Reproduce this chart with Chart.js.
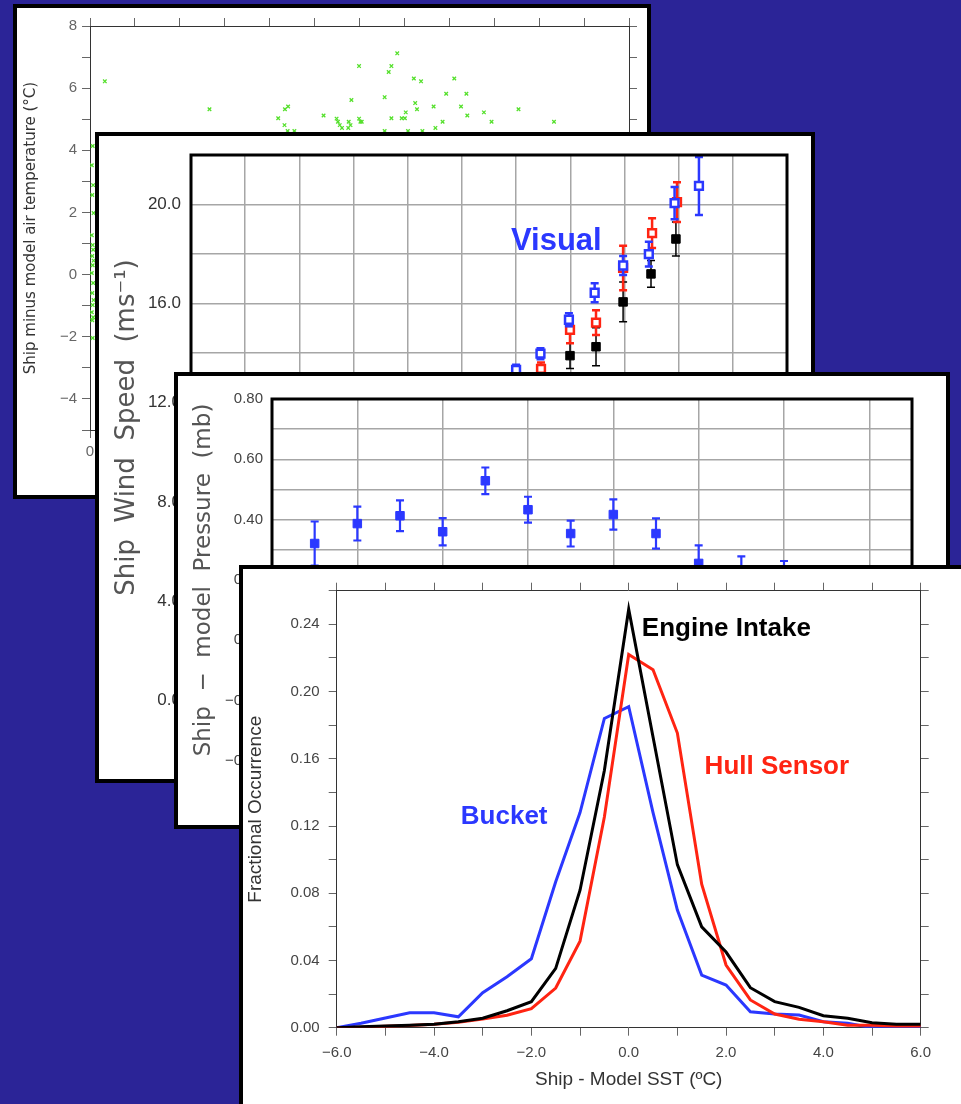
<!DOCTYPE html>
<html>
<head>
<meta charset="utf-8">
<title>Ship minus model comparisons</title>
<script src="https://cdn.jsdelivr.net/npm/chart.js@4.4.1/dist/chart.umd.min.js"></script>
<style>
  html, body { margin: 0; padding: 0; overflow: hidden; background: #2b2497; }
  canvas { position: absolute; left: 0; top: 0; }
</style>
</head>
<body>
<canvas id="airChart" width="961" height="1104" style="z-index:1"></canvas>
<canvas id="windChart" width="961" height="1104" style="z-index:2"></canvas>
<canvas id="pressureChart" width="961" height="1104" style="z-index:3"></canvas>
<canvas id="sstChart" width="961" height="1104" style="z-index:4"></canvas>
<script>
// ---- panel 1: ship minus model air temperature (scatter) ----
const airX = [0.33, 2.66, 4.19, 4.34, 4.41, 4.33, 4.40, 4.55, 5.20, 5.49, 5.52, 5.56, 5.61, 5.76, 5.80, 5.75,
  5.82, 5.99, 5.99, 6.02, 6.05, 6.56, 6.56, 6.65, 6.71, 6.71, 6.84, 6.94, 7.01, 7.03, 7.08, 7.21, 7.24, 7.28,
  7.37, 7.40, 7.65, 7.69, 7.85, 7.93, 8.11, 8.26, 8.38, 8.40, 8.77, 8.94, 9.54, 10.33,
  0.06, 0.04, 0.07, 0.05, 0.08, 0.04, 0.06, 0.07, 0.05, 0.08, 0.06, 0.04, 0.07, 0.05, 0.08, 0.06, 0.04, 0.07, 0.05, 0.06];
const airY = [6.22, 5.32, 5.03, 5.32, 5.41, 4.81, 4.62, 4.62, 5.12, 5.02, 4.92, 4.81, 4.72, 4.92, 4.81, 4.72,
  5.62, 6.71, 5.02, 4.92, 4.92, 5.71, 4.62, 6.52, 6.71, 5.03, 7.12, 5.03, 5.03, 5.22, 4.62, 6.31, 5.52, 5.32,
  6.22, 4.62, 5.41, 4.72, 4.92, 5.82, 6.31, 5.41, 5.82, 5.12, 5.22, 4.92, 5.32, 4.92,
  4.14, 3.52, 2.88, 2.56, 1.98, 1.27, 0.95, 0.80, 0.60, 0.45, 0.30, 0.05, -0.27, -0.59, -0.82, -0.98, -1.21, -1.37, -1.47, -2.04];
const airYTicks = [8, 6, 4, 2, 0, -2, -4];

// ---- panel 2: ship wind speed ----
const visualX = [12.0, 12.9, 13.95, 14.9, 15.95, 16.9, 17.85, 18.75];
const visualSpeed = [13.33, 13.98, 15.35, 16.44, 17.54, 18.0, 20.06, 20.75];
const visualErr = [0.2, 0.22, 0.26, 0.38, 0.38, 0.5, 0.65, 1.17];
const hullX = [12.92, 13.99, 14.95, 15.95, 17.02, 17.94];
const hullSpeed = [13.37, 14.94, 15.23, 17.44, 18.85, 20.1];
const hullErr = [0.25, 0.54, 0.5, 0.9, 0.6, 0.8];
const engineX = [13.99, 14.95, 15.95, 16.98, 17.9];
const engineSpeed = [13.9, 14.26, 16.07, 17.2, 18.61];
const engineErr = [0.52, 0.77, 0.8, 0.54, 0.69];

// ---- panel 3: ship - model pressure ----
const pressX = [1, 2, 3, 4, 5, 6, 7, 8, 9, 10, 11, 12];
const pressure = [0.321, 0.387, 0.413, 0.360, 0.529, 0.433, 0.354, 0.417, 0.354, 0.255, 0.218, 0.208];
const pressErr = [0.073, 0.056, 0.051, 0.045, 0.044, 0.043, 0.043, 0.05, 0.05, 0.06, 0.06, 0.055];

// ---- panel 4: fractional occurrence of ship - model SST ----
const sstBins = [-6, -5.5, -5, -4.5, -4, -3.5, -3, -2.5, -2, -1.5, -1, -0.5, 0, 0.5, 1, 1.5, 2, 2.5, 3, 3.5, 4, 4.5, 5, 5.5, 6];
const bucket = [0, 0.0026, 0.0058, 0.0089, 0.0089, 0.0065, 0.0208, 0.0303, 0.041, 0.0868, 0.128, 0.184, 0.191,
  0.128, 0.070, 0.0313, 0.0254, 0.0095, 0.0081, 0.0075, 0.0036, 0.0026, 0.0, 0.0005, 0];
const engineIntake = [0, 0.0005, 0.001, 0.0015, 0.002, 0.0036, 0.0056, 0.0101, 0.0155, 0.0353, 0.0818, 0.153, 0.249,
  0.173, 0.097, 0.060, 0.045, 0.0238, 0.0155, 0.0121, 0.0071, 0.0056, 0.003, 0.002, 0.002];
const hullSensor = [0, 0.0003, 0.0008, 0.0013, 0.002, 0.0032, 0.0052, 0.0074, 0.0113, 0.0236, 0.0515, 0.1254, 0.222,
  0.213, 0.1753, 0.0854, 0.0373, 0.0165, 0.0081, 0.005, 0.0036, 0.0014, 0.0014, 0.001, 0.001];

const SANS = '"Liberation Sans", Arial, sans-serif';
const DEJA = '"DejaVu Sans", sans-serif';
const BLUE = '#2b38ff', RED = '#ff2412', GREEN = '#55e02c';
const MINUS = '\u2212';

Chart.defaults.font.family = SANS;
Chart.defaults.animation = false;
Chart.defaults.responsive = false;
Chart.defaults.events = [];
Chart.defaults.plugins.legend.display = false;
Chart.defaults.plugins.tooltip.enabled = false;

const pts = (xs, ys) => xs.map((x, i) => ({x: x, y: ys[i]}));
const fmt = (v, d) => Math.abs(v) < 1e-9 ? (0).toFixed(d) : (v < 0 ? MINUS + Math.abs(v).toFixed(d) : v.toFixed(d));

// white slide with black border behind each chart
const panelBox = {
  id: 'panelBox',
  beforeDraw(chart, args, o) {
    const ctx = chart.ctx, b = o.border;
    ctx.save();
    ctx.fillStyle = '#fff';
    ctx.fillRect(o.left, o.top, o.right - o.left, o.bottom - o.top);
    ctx.lineWidth = b;
    ctx.strokeStyle = '#000';
    ctx.strokeRect(o.left + b / 2, o.top + b / 2, o.right - o.left - b, o.bottom - o.top - b);
    ctx.restore();
  }
};

// heavy frame round the plot area
const plotFrame = {
  id: 'plotFrame',
  afterDraw(chart, args, o) {
    if (!o.width) return;
    const a = chart.chartArea, ctx = chart.ctx;
    ctx.save();
    ctx.lineWidth = o.width;
    ctx.strokeStyle = '#000';
    ctx.strokeRect(a.left, a.top, a.right - a.left, a.bottom - a.top);
    ctx.restore();
  }
};

// vertical error bars read from dataset.errors
const errorBars = {
  id: 'errorBars',
  beforeDatasetDraw(chart, args) {
    const ds = chart.data.datasets[args.index];
    if (!ds.errors) return;
    const ctx = chart.ctx, ys = chart.scales.y;
    ctx.save();
    ctx.strokeStyle = ds.borderColor;
    ctx.lineWidth = ds.errorWidth || 2;
    args.meta.data.forEach((p, i) => {
      const v = ds.data[i].y, e = ds.errors[i];
      const t = ys.getPixelForValue(v + e), b = ys.getPixelForValue(v - e);
      ctx.beginPath();
      ctx.moveTo(p.x, t); ctx.lineTo(p.x, b);
      ctx.moveTo(p.x - 4, t); ctx.lineTo(p.x + 4, t);
      ctx.moveTo(p.x - 4, b); ctx.lineTo(p.x + 4, b);
      ctx.stroke();
    });
    ctx.restore();
  }
};

// series names written inside the plot
const notes = {
  id: 'notes',
  afterDatasetsDraw(chart, args, o) {
    if (!o.items) return;
    const ctx = chart.ctx;
    ctx.save();
    ctx.textAlign = 'left';
    ctx.textBaseline = 'middle';
    o.items.forEach(n => {
      ctx.font = 'bold ' + n.size + 'px ' + SANS;
      ctx.fillStyle = n.color;
      ctx.fillText(n.text, chart.scales.x.getPixelForValue(n.x), chart.scales.y.getPixelForValue(n.y));
    });
    ctx.restore();
  }
};

const size = (w, h) => s => { if (w !== null) s.width = w; if (h !== null) s.height = h; };
const tickAxis = (pos, min, max, step, len, extra) => Object.assign({
  type: 'linear', position: pos, min: min, max: max,
  ticks: {display: false, stepSize: step, autoSkip: false},
  grid: {drawOnChartArea: false, tickLength: len, color: '#666'},
  border: {display: true, color: '#333', width: 1}
}, extra || {});

// ---------- panel 1 ----------
new Chart(document.getElementById('airChart'), {
  type: 'scatter',
  data: {datasets: [{
    data: pts(airX, airY), pointStyle: 'crossRot', pointRadius: 2.5,
    borderColor: GREEN, backgroundColor: GREEN, borderWidth: 1.3
  }]},
  options: {
    layout: {padding: {left: 22, top: 18, right: 324, bottom: 644}},
    plugins: {panelBox: {left: 13, top: 4, right: 651, bottom: 499, border: 4}},
    scales: {
      x: tickAxis('bottom', 0, 12, 1, 8, {
        ticks: {stepSize: 1, autoSkip: false, maxRotation: 0, padding: 5, color: '#666', font: {size: 15},
          callback: v => v === 0 ? '0' : ''},
        afterFit: size(null, 30)
      }),
      x2: tickAxis('top', 0, 12, 1, 8, {afterFit: size(null, 8)}),
      y: tickAxis('left', -5, 8, 1, 8, {
        ticks: {stepSize: 1, autoSkip: false, padding: 5, color: '#666', font: {size: 15},
          callback: v => airYTicks.includes(v) ? fmt(v, 0) : ''},
        title: {display: true, text: 'Ship minus model air temperature (°C)', color: '#333',
          font: {family: DEJA, size: 15}, padding: 0},
        afterFit: size(68, null)
      }),
      y2: tickAxis('right', -5, 8, 1, 8, {afterFit: size(8, null)})
    }
  },
  plugins: [panelBox]
});

// ---------- panel 2 ----------
const gridGrey = {color: '#a6a6a6', lineWidth: 1.5, drawTicks: false};
new Chart(document.getElementById('windChart'), {
  type: 'scatter',
  data: {datasets: [
    {label: 'Visual', data: pts(visualX, visualSpeed), errors: visualErr, errorWidth: 2.5,
      pointStyle: 'rect', pointRadius: 5.5, borderWidth: 2.5, borderColor: BLUE, backgroundColor: '#fff'},
    {label: 'Hull Sensor', data: pts(hullX, hullSpeed), errors: hullErr, errorWidth: 2.5,
      pointStyle: 'rect', pointRadius: 5.5, borderWidth: 2.5, borderColor: RED, backgroundColor: '#fff'},
    {label: 'Engine Intake', data: pts(engineX, engineSpeed), errors: engineErr, errorWidth: 1.5,
      pointStyle: 'rect', pointRadius: 6, borderWidth: 1, borderColor: '#000', backgroundColor: '#000'}
  ]},
  options: {
    layout: {padding: {left: 111.4, top: 155, right: 174, bottom: 404}},
    plugins: {
      panelBox: {left: 95, top: 132, right: 815, bottom: 783, border: 4},
      plotFrame: {width: 3},
      notes: {items: [{text: 'Visual', x: 11.81, y: 18.49, color: BLUE, size: 31}]}
    },
    scales: {
      x: {type: 'linear', min: 0, max: 22, ticks: {display: false, stepSize: 2, autoSkip: false},
        grid: gridGrey, border: {display: false}, afterFit: size(null, 0)},
      y: {type: 'linear', min: 0, max: 22,
        ticks: {stepSize: 2, autoSkip: false, padding: 10, color: '#333', font: {size: 17},
          callback: v => v % 4 === 0 ? fmt(v, 1) : ''},
        grid: gridGrey, border: {display: false},
        title: {display: true, text: 'Ship  Wind  Speed  (ms\u207B\u00B9)', color: '#555',
          font: {family: DEJA, size: 26}, padding: 0},
        afterFit: size(79.6, null)}
    }
  },
  plugins: [panelBox, plotFrame, errorBars, notes]
});

// ---------- panel 3 ----------
new Chart(document.getElementById('pressureChart'), {
  type: 'scatter',
  data: {datasets: [{
    data: pts(pressX, pressure), errors: pressErr, errorWidth: 2.2,
    pointStyle: 'rect', pointRadius: 6, borderWidth: 1, borderColor: BLUE, backgroundColor: BLUE
  }]},
  options: {
    layout: {padding: {left: 190.2, top: 399, right: 49, bottom: 343}},
    plugins: {
      panelBox: {left: 174, top: 372, right: 950, bottom: 829, border: 4},
      plotFrame: {width: 3}
    },
    scales: {
      x: {type: 'linear', min: 0, max: 15, ticks: {display: false, stepSize: 2, autoSkip: false},
        grid: gridGrey, border: {display: false}, afterFit: size(null, 0)},
      y: {type: 'linear', min: -0.4, max: 0.8,
        ticks: {stepSize: 0.1, autoSkip: false, padding: 9, color: '#444', font: {size: 15},
          callback: v => Math.round(v * 10) % 2 === 0 ? fmt(v, 2) : ''},
        grid: gridGrey, border: {display: false},
        title: {display: true, text: 'Ship  \u2212  model  Pressure  (mb)', color: '#555',
          font: {family: DEJA, size: 23}, padding: 0},
        afterFit: size(81.8, null)}
    }
  },
  plugins: [panelBox, plotFrame, errorBars]
});

// ---------- panel 4 ----------
const line = (label, ys, color) => ({
  label: label, data: pts(sstBins, ys), showLine: true, pointRadius: 0,
  borderColor: color, backgroundColor: color, borderWidth: 3, tension: 0
});
new Chart(document.getElementById('sstChart'), {
  type: 'scatter',
  data: {datasets: [
    line('Engine Intake', engineIntake, '#000'),
    line('Hull Sensor', hullSensor, RED),
    line('Bucket', bucket, BLUE)
  ]},
  options: {
    layout: {padding: {left: 244.6, top: 582.7, right: 32.3, bottom: 12.6}},
    plugins: {
      panelBox: {left: 239, top: 565, right: 975, bottom: 1120, border: 4},
      notes: {items: [
        {text: 'Engine Intake', x: 0.27, y: 0.2376, color: '#000', size: 26},
        {text: 'Hull Sensor', x: 1.56, y: 0.155, color: RED, size: 26},
        {text: 'Bucket', x: -3.45, y: 0.1252, color: BLUE, size: 26}
      ]}
    },
    scales: {
      x: tickAxis('bottom', -6, 6, 1, 8, {
        ticks: {stepSize: 1, autoSkip: false, maxRotation: 0, padding: 8, color: '#444', font: {size: 15},
          callback: v => v % 2 === 0 ? fmt(v, 1) : ''},
        title: {display: true, text: 'Ship - Model SST (\u00BAC)', color: '#333', font: {size: 19}, padding: 0},
        afterFit: size(null, 63.7)
      }),
      x2: tickAxis('top', -6, 6, 1, 8, {afterFit: size(null, 8)}),
      y: tickAxis('left', 0, 0.26, 0.02, 8, {
        ticks: {stepSize: 0.02, autoSkip: false, padding: 9, color: '#444', font: {size: 15},
          callback: v => Math.round(v * 100) % 4 === 0 ? fmt(v, 2) : ''},
        title: {display: true, text: 'Fractional Occurrence', color: '#333', font: {size: 19}, padding: 0},
        afterFit: size(92.1, null)
      }),
      y2: tickAxis('right', 0, 0.26, 0.02, 8, {afterFit: size(8, null)})
    }
  },
  plugins: [panelBox, notes]
});
</script>
</body>
</html>
